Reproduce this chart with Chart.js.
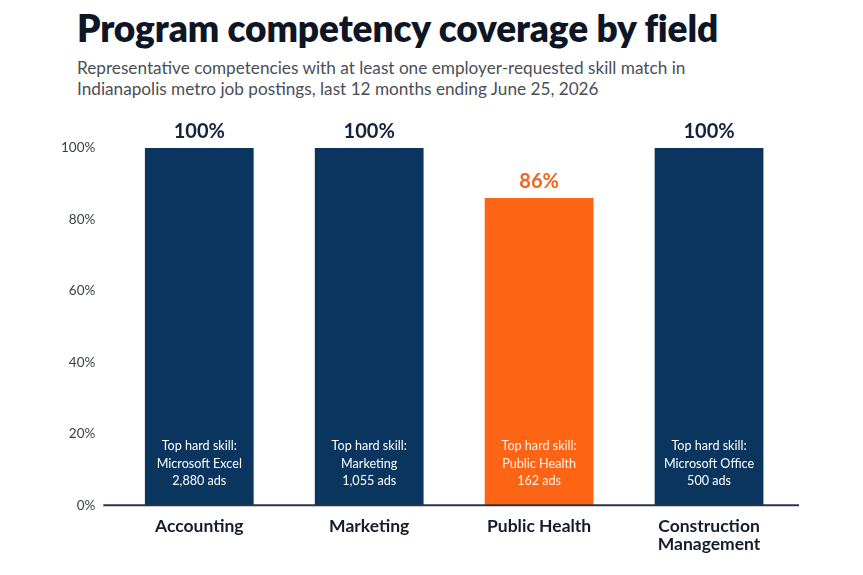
<!DOCTYPE html>
<html>
<head>
<meta charset="utf-8">
<script src="https://cdn.jsdelivr.net/npm/chart.js@4"></script>
<style>
  body { margin: 0; background: #fff; font-family: Lato, "Open Sans", sans-serif; }
  #wrap { position: relative; width: 863px; height: 575px; }
  h1 { position: absolute; left: 77px; top: 5px; margin: 0; font-size: 37px; font-weight: 800; color: #0e1626; letter-spacing: -0.1px; }
  p.sub { position: absolute; left: 77px; top: 57px; margin: 0; font-size: 17.2px; line-height: 21px; color: #4a4f57; width: 760px; }
  canvas { position: absolute; left: 0; top: 0; }
</style>
</head>
<body>
<div id="wrap">
  <h1>Program competency coverage by field</h1>
  <p class="sub">Representative competencies with at least one employer-requested skill match in<br>Indianapolis metro job postings, last 12 months ending June 25, 2026</p>
  <canvas id="myChart" width="863" height="575"></canvas>
</div>
<script>
const fields = ['Accounting', 'Marketing', 'Public Health', ['Construction', 'Management']];
const coverage = [100, 100, 86, 100];
const topSkills = ['Microsoft Excel', 'Marketing', 'Public Health', 'Microsoft Office'];
const adCounts = [2880, 1055, 162, 500];
const yTicks = [0, 20, 40, 60, 80, 100];

const navy = '#0a355f';
const orange = '#fd6414';
const barColors = coverage.map((v) => v < 100 ? orange : navy);
const labelColors = coverage.map((v) => v < 100 ? '#f2661e' : '#14233d');

const ctx = document.getElementById('myChart').getContext('2d');

// values above bars + skill text inside bars
const barText = {
  id: 'barText',
  afterDatasetsDraw(chart) {
    const c = chart.ctx;
    const meta = chart.getDatasetMeta(0);
    const base = chart.scales.y.getPixelForValue(0);
    c.save();
    c.textAlign = 'center';
    meta.data.forEach((bar, i) => {
      c.fillStyle = labelColors[i];
      c.font = 'bold 20px Lato, sans-serif';
      c.textBaseline = 'alphabetic';
      c.fillText(coverage[i] + '%', bar.x, bar.y - 10);

      c.fillStyle = coverage[i] < 100 ? '#fff1e8' : '#ffffff';
      c.font = '12.6px Lato, sans-serif';
      c.textBaseline = 'middle';
      const lines = ['Top hard skill:', topSkills[i], adCounts[i].toLocaleString('en-US') + ' ads'];
      lines.forEach((t, j) => {
        c.fillText(t, bar.x, base - 59 + j * 17.5);
      });
    });
    c.restore();
  }
};

// bottom axis line, a bit wider than the plot
const baseLine = {
  id: 'baseLine',
  afterDatasetsDraw(chart) {
    const c = chart.ctx;
    const y = chart.scales.y.getPixelForValue(0);
    c.save();
    c.strokeStyle = '#2b3346';
    c.lineWidth = 2;
    c.beginPath();
    c.moveTo(chart.chartArea.left - 11, y);
    c.lineTo(chart.chartArea.right + 5, y);
    c.stroke();
    c.restore();
  }
};

new Chart(ctx, {
  type: 'bar',
  data: {
    labels: fields,
    datasets: [{
      data: coverage,
      backgroundColor: barColors,
      borderWidth: 0,
      barPercentage: 0.64,
      categoryPercentage: 1
    }]
  },
  options: {
    responsive: false,
    animation: false,
    layout: { padding: { top: 148, left: 42, right: 69, bottom: 17 } },
    plugins: {
      legend: { display: false },
      tooltip: { enabled: false }
    },
    scales: {
      y: {
        min: 0,
        max: 100,
        afterBuildTicks(axis) { axis.ticks = yTicks.map((v) => ({ value: v })); },
        grid: { display: false, drawTicks: false },
        border: { display: false },
        ticks: {
          padding: 19,
          color: '#3a3f47',
          font: { family: 'Lato', size: 13.5 },
          callback: (v) => v + '%'
        }
      },
      x: {
        grid: { display: false },
        border: { display: false },
        ticks: {
          padding: 4,
          color: '#141c2c',
          font: { family: 'Lato', size: 17.5, weight: 'bold', lineHeight: 1.05 }
        }
      }
    }
  },
  plugins: [barText, baseLine]
});
</script>
</body>
</html>
